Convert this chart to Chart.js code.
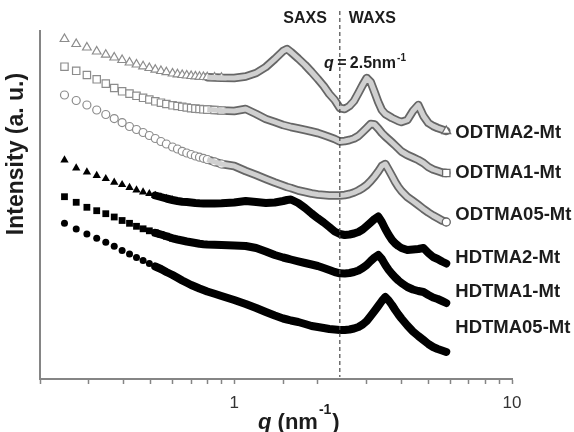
<!DOCTYPE html>
<html>
<head>
<meta charset="utf-8">
<script src="https://cdn.jsdelivr.net/npm/chart.js@4.4.1/dist/chart.umd.min.js"></script>
<style>
  html, body { margin: 0; padding: 0; background: #fff; }
  #wrap { width: 574px; height: 432px; }
</style>
</head>
<body>
<div id="wrap"><canvas id="chart" width="574" height="432"></canvas></div>
<script>
// scattering vector q (nm^-1), shared by all curves
const qValues = [0.245, 0.27, 0.295, 0.32, 0.345, 0.37, 0.395, 0.42, 0.445, 0.47, 0.495, 0.52, 0.545, 0.57,
  0.6, 0.625, 0.65, 0.675, 0.7, 0.725, 0.75, 0.775, 0.8, 0.85, 0.9, 1.0, 1.1, 1.2, 1.3, 1.4, 1.5, 1.55,
  1.6, 1.7, 1.8, 1.9, 2.0, 2.1, 2.2, 2.3, 2.4, 2.5, 2.6, 2.7, 2.8, 2.9, 3.0, 3.1, 3.2, 3.3, 3.4, 3.5, 3.6, 3.7, 3.8, 3.9, 4.0,
  4.2, 4.4, 4.6, 4.8, 5.0, 5.2, 5.4, 5.6, 5.8];

// intensities (arbitrary units, curves shifted vertically)
const odtma2 = [340, 335, 331.5, 327.5, 324.3, 321.5, 319, 316.5, 314.5, 312.7, 311, 309.3, 308, 306.8,
  305.5, 304.7, 304, 303.5, 303, 302.6, 302.2, 302, 301.8, 301.5, 301.2, 301, 302.5, 306, 312, 320, 328, 330,
  327, 320.5, 314, 307, 300, 293, 285, 279, 271, 270, 273, 278, 286, 294, 301, 297, 287, 277, 269, 265, 263, 261, 259.5, 258, 257,
  259, 268, 274, 263, 256, 253, 251, 249.5, 248];
const odtma1 = [312.3, 308.2, 304, 299.7, 295.4, 291, 287.7, 285.4, 283.2, 281.2, 279.5, 277.7, 276.3, 275,
  273.7, 273, 272.2, 271.5, 270.8, 270.4, 270, 269.7, 269.4, 269, 268.5, 268, 270, 265, 260, 257, 254, 253,
  252, 250.5, 249, 247.5, 246, 244, 242, 240, 237.5, 238, 239, 240.5, 243, 247, 251, 255, 254.5, 250.5, 246, 242.5, 239.5, 236.5, 233.5, 230.5, 227.5,
  224, 221.5, 219, 216, 212, 209.5, 208, 206.5, 206];
const odtma05 = [284, 278.5, 274, 269, 264.5, 260.4, 256.4, 252.5, 249.5, 246.5, 243.5, 240.5, 237.5, 235,
  232, 230, 227.7, 226, 224.5, 223, 221.8, 220.7, 219.5, 217.2, 215, 213, 208, 204, 200, 196.5, 193.5, 192,
  191, 188.5, 187, 185.5, 184.5, 184, 183.5, 183.5, 183.5, 184, 185, 186.5, 188.5, 191, 194, 198, 202.5, 207.5, 213, 215, 209, 203, 197, 192, 188,
  182, 178, 174, 170, 166.5, 163.5, 161, 158.5, 157];
const hdtma2 = [219, 211, 207, 203.5, 200.3, 196.7, 194.3, 191.5, 189, 187, 185.3, 183.5, 182, 180.5,
  179, 178, 177.3, 177, 176.5, 176, 175.7, 175.6, 175.5, 175.6, 175.7, 176.5, 178, 177, 176, 176.5, 178, 179,
  179.5, 176, 171, 165.5, 160.7, 156.5, 152, 147.5, 145, 144, 144.5, 145.5, 147, 149.5, 153, 156.5, 160, 162.5, 157, 150, 144, 139, 135.5, 133, 131,
  129, 129.5, 130, 131, 126, 122, 120, 117.5, 115.5];
const hdtma1 = [182.3, 176.7, 171.7, 168.3, 165.3, 162, 158.5, 155.7, 152.7, 150.2, 148.2, 146.2, 144.5, 142.8,
  140.7, 139.5, 138.5, 137.5, 136.7, 136, 135.2, 134.8, 134.5, 134.2, 134, 133.5, 133, 131, 127.5, 124, 121.5, 120.5,
  119.5, 117.7, 116, 114.5, 113, 111, 109, 107, 105.7, 105.5, 106, 107, 108.5, 111, 114, 118, 121.5, 124, 120, 114, 109, 105, 101.5, 98.5, 96,
  92, 89.5, 88, 87, 84, 81.5, 80, 78, 76];
const hdtma05 = [155.7, 150, 145, 140.7, 136.7, 132.7, 128.5, 125, 121.5, 118.5, 115.5, 112.5, 110, 107,
  104, 101.2, 98.5, 96.2, 94, 92.2, 90.5, 89, 87.5, 85.2, 83, 79, 75, 71, 67, 63.5, 60.5, 59.5,
  58.5, 57, 55, 53, 52, 51, 50, 49.5, 49, 49, 49.5, 50.5, 52, 54.5, 58, 63, 68, 73, 78, 82, 78.5, 74, 69, 64.5, 60.5,
  53.5, 47.5, 43, 39, 35, 32, 30, 28.5, 27];

const seriesNames = ["ODTMA2-Mt", "ODTMA1-Mt", "ODTMA05-Mt", "HDTMA2-Mt", "HDTMA1-Mt", "HDTMA05-Mt"];
const labelLevels = [246, 206, 164, 121, 87, 51];   // where the curve names sit
const xTickLabels = [1, 10];
const dividerQ = 2.4;                               // SAXS / WAXS boundary line

const FONT = '"Liberation Sans", Arial, Helvetica, sans-serif';
const TXT = "#1c1c1c";
const AXIS = "#858585";
const last = qValues.length - 1;

const pts = (vals) => qValues.map((q, i) => ({ x: q, y: vals[i] }));

// filled black curves: separate markers at low q, then a thick band
function blackSeries(vals, style, r) {
  return {
    data: pts(vals),
    order: 3,
    borderColor: "#000",
    borderWidth: 8,
    borderCapStyle: "round",
    borderJoinStyle: "round",
    tension: 0,
    pointStyle: style,
    pointRadius: (c) => (qValues[c.dataIndex] <= 0.6 ? r : 0),
    pointBackgroundColor: "#000",
    pointBorderColor: "#000",
    pointBorderWidth: 0,
    segment: { borderColor: (c) => (qValues[c.p0DataIndex] < 0.52 ? "transparent" : "#000") },
  };
}

// open grey curves: open markers, then a grey tube (dark rim + light core)
function greySeries(vals, style, r) {
  return [
    {
      data: pts(vals),
      order: 2,
      borderColor: "#666",
      borderWidth: 8.5,
      borderCapStyle: "round",
      borderJoinStyle: "round",
      tension: 0,
      pointStyle: style,
      pointRadius: (c) => (qValues[c.dataIndex] <= 0.9 ? r : 0),
      pointBackgroundColor: "#fff",
      pointBorderColor: "#8c8c8c",
      pointBorderWidth: 1.2,
      segment: { borderColor: (c) => (qValues[c.p0DataIndex] < 0.8 ? "transparent" : "#666") },
    },
    {
      data: pts(vals),
      order: 1,
      borderColor: "#d0d0d0",
      borderWidth: 5,
      borderCapStyle: "butt",
      borderJoinStyle: "round",
      tension: 0,
      pointStyle: style,
      pointRadius: (c) => (c.dataIndex === last ? r : 0),
      pointBackgroundColor: "#fff",
      pointBorderColor: "#6a6a6a",
      pointBorderWidth: 1.3,
      segment: { borderColor: (c) => (qValues[c.p0DataIndex] < 0.8 ? "transparent" : "#d0d0d0") },
    },
  ];
}

const annotations = {
  id: "annotations",
  afterDatasetsDraw(chart) {
    const { ctx, scales: { x, y } } = chart;
    const xd = x.getPixelForValue(dividerQ);
    ctx.save();

    // dashed divider
    ctx.strokeStyle = "#4a4a4a";
    ctx.lineWidth = 1.2;
    ctx.setLineDash([4, 3]);
    ctx.beginPath();
    ctx.moveTo(xd, 11);
    ctx.lineTo(xd, y.bottom - 2);
    ctx.stroke();
    ctx.setLineDash([]);

    ctx.fillStyle = TXT;
    ctx.textBaseline = "middle";
    ctx.font = `bold 16px ${FONT}`;
    ctx.textAlign = "right";
    ctx.fillText("SAXS", xd - 13, 19);
    ctx.textAlign = "left";
    ctx.fillText("WAXS", xd + 9, 19);

    // q = 2.5nm-1
    ctx.textBaseline = "alphabetic";
    ctx.textAlign = "right";
    ctx.font = `italic bold 16px ${FONT}`;
    ctx.fillText("q", xd - 6, 68);
    ctx.textAlign = "center";
    ctx.font = `bold 16px ${FONT}`;
    ctx.fillText("=", xd + 2, 68);
    ctx.textAlign = "left";
    ctx.fillText("2.5nm", xd + 10, 68);
    const w = ctx.measureText("2.5nm").width;
    ctx.font = `bold 10px ${FONT}`;
    ctx.fillText("-1", xd + 10 + w + 1, 61);

    // curve names
    ctx.font = `bold 18.5px ${FONT}`;
    ctx.textBaseline = "middle";
    const lx = x.getPixelForValue(qValues[last]) + 9;
    seriesNames.forEach((n, i) => ctx.fillText(n, lx, y.getPixelForValue(labelLevels[i])));

    // y title
    ctx.save();
    ctx.translate(17, 154);
    ctx.rotate(-Math.PI / 2);
    ctx.textAlign = "center";
    ctx.font = `bold 23px ${FONT}`;
    ctx.fillText("Intensity (a. u.)", 0, 0);
    ctx.restore();

    // x title: q (nm-1)
    ctx.textBaseline = "alphabetic";
    ctx.textAlign = "left";
    let cx = 258;
    const by = 429;
    ctx.font = `italic bold 22px ${FONT}`;
    ctx.fillText("q", cx, by);
    cx += ctx.measureText("q ").width;
    ctx.font = `bold 22px ${FONT}`;
    ctx.fillText("(nm", cx, by);
    cx += ctx.measureText("(nm").width + 1;
    ctx.font = `bold 14px ${FONT}`;
    ctx.fillText("-1", cx, by - 15);
    cx += ctx.measureText("-1").width + 1;
    ctx.font = `bold 22px ${FONT}`;
    ctx.fillText(")", cx, by);

    ctx.restore();
  },
};

new Chart(document.getElementById("chart"), {
  type: "line",
  data: {
    datasets: [
      ...greySeries(odtma2, "triangle", 5),
      ...greySeries(odtma1, "rect", 5.2),
      ...greySeries(odtma05, "circle", 4),
      blackSeries(hdtma2, "triangle", 4.8),
      blackSeries(hdtma1, "rect", 4.8),
      blackSeries(hdtma05, "circle", 3.5),
    ],
  },
  options: {
    responsive: false,
    animation: false,
    devicePixelRatio: 1,
    layout: { padding: { left: 0, right: 62, top: 31, bottom: 0 } },
    plugins: { legend: { display: false }, tooltip: { enabled: false } },
    scales: {
      x: {
        type: "logarithmic",
        min: 0.2,
        max: 10,
        afterFit: (s) => { s.height = 53; },
        border: { display: true, color: AXIS, width: 2 },
        grid: { display: true, drawOnChartArea: false, drawTicks: true, tickLength: 5, tickColor: AXIS, tickWidth: 1.5 },
        ticks: {
          autoSkip: false,
          maxRotation: 0,
          padding: 9,
          color: "#333",
          font: { family: FONT, size: 17 },
          callback: (v) => (xTickLabels.includes(Number(v)) ? String(v) : ""),
        },
      },
      y: {
        min: 0,
        max: 348,
        afterFit: (s) => { s.width = 40; },
        border: { display: true, color: AXIS, width: 2 },
        grid: { display: false },
        ticks: { display: false },
      },
    },
  },
  plugins: [annotations],
});
</script>
</body>
</html>
